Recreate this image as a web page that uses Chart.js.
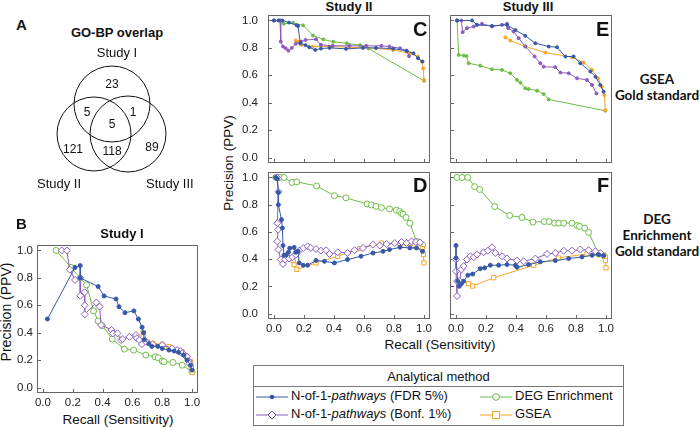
<!DOCTYPE html>
<html>
<head>
<meta charset="utf-8">
<script src="https://cdn.jsdelivr.net/npm/chart.js@4.4.1/dist/chart.umd.min.js"></script>
<style>
  body { margin:0; width:700px; height:427px; overflow:hidden; background:#fff; font-family:"Liberation Sans", Arial, sans-serif; color:#111; }
  canvas { position:absolute; }
  .t { position:absolute; white-space:nowrap; line-height:1; }
  .b { font-weight:bold; }
  .c { transform:translateX(-50%); }
  .rot { transform:translate(-50%,-50%) rotate(-90deg); }
  .gs { font-family:Lato, "Open Sans", sans-serif; font-weight:bold; font-size:13.5px; text-align:center; line-height:16px; }
  .big { font-weight:bold; font-size:20px; }
  #legend { position:absolute; left:253px; top:365px; width:369px; height:59px; border:1px solid #777; font-size:13px; }
  #legend .hd { height:20px; border-bottom:1px solid #777; text-align:center; line-height:21px; }
  #legend .it { position:absolute; height:16px; line-height:16px; }
  #legend svg { vertical-align:middle; margin-right:3px; }
</style>
</head>
<body>

<!-- Venn -->
<canvas id="venn" width="200" height="130" style="left:0;top:55px"></canvas>
<div class="t b" style="left:16px;top:17px;font-size:15px">A</div>
<div class="t b c" style="left:117px;top:26px;font-size:13px">GO-BP overlap</div>
<div class="t c" style="left:117px;top:46px;font-size:13px">Study I</div>
<div class="t" style="left:37px;top:177px;font-size:13px">Study II</div>
<div class="t" style="left:146px;top:177px;font-size:13px">Study III</div>

<!-- B -->
<div class="t b" style="left:16px;top:216px;font-size:15px">B</div>
<div class="t b c" style="left:122px;top:227px;font-size:13px">Study I</div>
<div class="t rot" style="left:6px;top:312px;font-size:14px">Precision (PPV)</div>
<div class="t c" style="left:118px;top:413px;font-size:13.5px">Recall (Sensitivity)</div>
<canvas id="pB"></canvas>

<!-- C-F -->
<div class="t b c" style="left:349px;top:0px;font-size:13px">Study II</div>
<div class="t b c" style="left:528px;top:0px;font-size:13px">Study III</div>
<div class="t rot" style="left:229px;top:163px;font-size:13.5px">Precision (PPV)</div>
<div class="t c" style="left:440px;top:338px;font-size:13.5px">Recall (Sensitivity)</div>
<div class="t gs c" style="left:657px;top:71px">GSEA<br>Gold standard</div>
<div class="t gs c" style="left:657px;top:211px">DEG<br>Enrichment<br>Gold standard</div>
<canvas id="pC"></canvas>
<canvas id="pD"></canvas>
<canvas id="pE"></canvas>
<canvas id="pF"></canvas>
<div class="t big" style="left:413px;top:19px">C</div>
<div class="t big" style="left:413px;top:175px">D</div>
<div class="t big" style="left:596px;top:19px">E</div>
<div class="t big" style="left:597px;top:175px">F</div>

<div id="legend">
  <div class="hd">Analytical method</div>
  <div class="it" style="left:2px;top:22px"><svg width="32" height="10"><line x1="0" y1="5" x2="32" y2="5" stroke="#3558a8"/><circle cx="16" cy="5" r="2.2" fill="#2c4d9e"/></svg>N-of-1-<i>pathways</i> (FDR 5%)</div>
  <div class="it" style="left:2px;top:40px"><svg width="32" height="10"><line x1="0" y1="5" x2="32" y2="5" stroke="#8c5cbf"/><path d="M16 1 L20 5 L16 9 L12 5 Z" fill="#fff" stroke="#8c5cbf"/></svg>N-of-1-<i>pathways</i> (Bonf. 1%)</div>
  <div class="it" style="left:226px;top:22px"><svg width="32" height="10"><line x1="0" y1="5" x2="32" y2="5" stroke="#6dbd45"/><circle cx="16" cy="5" r="3.3" fill="#fff" stroke="#6dbd45"/></svg>DEG Enrichment</div>
  <div class="it" style="left:226px;top:40px"><svg width="32" height="10"><line x1="0" y1="5" x2="32" y2="5" stroke="#f5a52a"/><rect x="12.5" y="1.5" width="7" height="7" fill="#fff" stroke="#f5a52a"/></svg>GSEA</div>
</div>

<script>
// Venn counts (GO-BP overlap)
const vennSets = ['Study I', 'Study II', 'Study III'];
const vennCounts = [23, 5, 1, 5, 121, 118, 89]; // I only, I&II, I&III, all, II only, II&III, III only

// Precision-recall curves: [recall, precision]
// Panel B - Study I
const B_FDR = [[0.03,0.50],[0.215,0.876],[0.25,0.89],[0.25,0.80],[0.37,0.737],[0.41,0.668],[0.49,0.646],[0.51,0.59],[0.55,0.546],[0.61,0.559],[0.64,0.50],[0.665,0.44],[0.675,0.40],[0.68,0.35],[0.71,0.32],[0.73,0.30],[0.77,0.30],[0.80,0.285],[0.845,0.273],[0.88,0.266],[0.91,0.256],[0.945,0.237],[0.967,0.20],[0.99,0.163],[1.0,0.127]];
const B_BONF = [[0.126,1.0],[0.16,1.0],[0.18,0.86],[0.215,0.785],[0.25,0.80],[0.25,0.67],[0.28,0.695],[0.28,0.60],[0.28,0.534],[0.358,0.62],[0.38,0.59],[0.39,0.456],[0.46,0.42],[0.47,0.395],[0.50,0.395],[0.524,0.346],[0.535,0.354],[0.58,0.37],[0.624,0.383],[0.63,0.36],[0.646,0.346],[0.664,0.317],[0.69,0.334],[0.735,0.315],[0.80,0.31],[0.867,0.285],[0.90,0.273],[0.922,0.266],[0.934,0.249],[0.95,0.237],[0.967,0.224],[0.978,0.193],[0.982,0.176]];
const B_DEG = [[0.088,1.0],[0.188,0.876],[0.292,0.749],[0.34,0.559],[0.37,0.485],[0.398,0.451],[0.465,0.354],[0.546,0.28],[0.608,0.273],[0.69,0.237],[0.752,0.224],[0.774,0.217],[0.80,0.193],[0.812,0.188],[0.872,0.183],[0.934,0.163],[1.0,0.115]];
const B_GSEA = [[0.672,0.40],[0.672,0.37],[0.70,0.334],[0.735,0.322],[0.80,0.315],[0.845,0.298],[0.89,0.273],[0.934,0.26],[0.967,0.212],[0.99,0.188],[0.995,0.151],[1.0,0.11]];

// Panel C - Study II, GSEA gold standard
const C_FDR = [[0,1],[0.03,1],[0.056,1],[0.10,0.985],[0.15,0.966],[0.16,0.96],[0.175,0.834],[0.21,0.82],[0.235,0.805],[0.275,0.785],[0.313,0.795],[0.37,0.80],[0.48,0.793],[0.593,0.80],[0.68,0.80],[0.794,0.795],[0.884,0.778],[0.93,0.76],[0.96,0.724],[0.99,0.70]];
const C_BONF = [[0,1],[0.04,1],[0.045,0.846],[0.06,0.81],[0.078,0.797],[0.096,0.78],[0.118,0.80],[0.145,0.83],[0.18,0.846],[0.21,0.858],[0.28,0.863],[0.313,0.822],[0.39,0.815],[0.503,0.815],[0.615,0.815],[0.716,0.815],[0.77,0.81],[0.84,0.797],[0.884,0.78],[0.90,0.74]];
const C_DEG = [[0,1],[0.033,1],[0.065,0.976],[0.127,0.983],[0.194,0.964],[0.26,0.89],[0.328,0.862],[0.395,0.845],[0.485,0.833],[0.574,0.82],[0.63,0.795],[1.0,0.56]];
const C_GSEA = [[0.145,0.854],[0.16,0.845],[0.18,0.822],[0.257,0.81],[0.39,0.81],[0.503,0.805],[0.68,0.797],[0.794,0.785],[0.906,0.76],[0.96,0.737],[0.985,0.70],[0.995,0.65],[1.0,0.566]];

// Panel D - Study II, DEG enrichment gold standard
const D_FDR = [[0.011,1],[0.022,0.99],[0.029,0.89],[0.029,0.80],[0.05,0.69],[0.056,0.628],[0.06,0.50],[0.067,0.428],[0.08,0.43],[0.096,0.45],[0.105,0.48],[0.134,0.486],[0.145,0.45],[0.16,0.457],[0.168,0.372],[0.195,0.355],[0.224,0.355],[0.28,0.39],[0.336,0.384],[0.403,0.372],[0.49,0.397],[0.58,0.421],[0.66,0.445],[0.727,0.457],[0.77,0.47],[0.84,0.487],[0.906,0.482],[0.95,0.482],[0.99,0.457]];
const D_BONF = [[0.02,1],[0.03,0.895],[0.022,0.664],[0.027,0.616],[0.022,0.53],[0.03,0.47],[0.045,0.397],[0.06,0.365],[0.074,0.397],[0.1,0.404],[0.123,0.414],[0.145,0.433],[0.168,0.462],[0.195,0.482],[0.224,0.494],[0.246,0.482],[0.28,0.474],[0.313,0.462],[0.347,0.465],[0.37,0.438],[0.425,0.45],[0.49,0.445],[0.537,0.465],[0.593,0.482],[0.66,0.506],[0.705,0.50],[0.75,0.51],[0.805,0.518],[0.85,0.526],[0.884,0.518],[0.917,0.53],[0.946,0.526],[0.973,0.523]];
const D_DEG = [[0.011,1],[0.04,1],[0.067,1],[0.12,0.963],[0.152,0.968],[0.284,0.937],[0.403,0.866],[0.48,0.85],[0.62,0.805],[0.65,0.798],[0.68,0.788],[0.716,0.778],[0.77,0.769],[0.816,0.76],[0.838,0.75],[0.85,0.735],[0.86,0.73],[0.88,0.706],[0.906,0.664],[0.95,0.53],[0.99,0.506]];
const D_GSEA = [[0.128,0.39],[0.134,0.36],[0.152,0.324],[0.28,0.372],[0.425,0.421],[0.57,0.477],[0.716,0.518],[0.84,0.506],[0.94,0.50],[0.973,0.494],[0.99,0.477],[0.996,0.433],[1.0,0.372]];

// Panel E - Study III, GSEA gold standard
const E_FDR = [[0.007,1],[0.107,1],[0.14,0.968],[0.24,0.961],[0.34,0.968],[0.396,0.93],[0.462,0.888],[0.529,0.834],[0.618,0.81],[0.673,0.805],[0.729,0.737],[0.784,0.737],[0.829,0.688],[0.896,0.627],[0.93,0.59],[0.962,0.529],[0.984,0.48]];
const E_BONF = [[0.007,1],[0.036,1],[0.044,0.915],[0.073,0.944],[0.118,0.956],[0.173,0.976],[0.24,0.956],[0.307,0.968],[0.34,0.976],[0.347,0.944],[0.384,0.92],[0.418,0.871],[0.462,0.81],[0.524,0.737],[0.562,0.688],[0.584,0.663],[0.662,0.659],[0.696,0.62],[0.751,0.615],[0.807,0.578],[0.873,0.566],[0.907,0.529],[0.936,0.468]];
const E_DEG = [[0.007,1],[0.018,0.749],[0.051,0.744],[0.07,0.74],[0.084,0.688],[0.162,0.67],[0.24,0.644],[0.307,0.639],[0.362,0.615],[0.407,0.566],[0.43,0.546],[0.462,0.505],[0.484,0.50],[0.54,0.488],[0.584,0.463],[0.618,0.424],[0.996,0.341]];
const E_GSEA = [[0.329,0.876],[0.362,0.854],[0.462,0.81],[0.596,0.766],[0.773,0.732],[0.851,0.693],[0.907,0.639],[0.947,0.578],[0.973,0.517],[0.989,0.456],[0.996,0.346]];

// Panel F - Study III, DEG enrichment gold standard
const F_FDR = [[0,0.50],[0,0.409],[0.011,0.238],[0.022,0.20],[0.036,0.219],[0.051,0.238],[0.08,0.282],[0.111,0.29],[0.162,0.33],[0.191,0.336],[0.229,0.355],[0.284,0.355],[0.34,0.36],[0.396,0.355],[0.407,0.34],[0.484,0.36],[0.562,0.38],[0.662,0.389],[0.751,0.404],[0.84,0.416],[0.907,0.428],[0.951,0.433],[0.984,0.426]];
const F_BONF = [[0,0.397],[0,0.311],[0.007,0.129],[0.007,0.238],[0.024,0.238],[0.036,0.324],[0.051,0.348],[0.073,0.397],[0.096,0.421],[0.118,0.414],[0.14,0.433],[0.184,0.45],[0.213,0.462],[0.24,0.487],[0.262,0.445],[0.307,0.421],[0.34,0.404],[0.407,0.389],[0.451,0.384],[0.529,0.404],[0.607,0.438],[0.662,0.445],[0.718,0.462],[0.773,0.462],[0.829,0.47],[0.884,0.465],[0.929,0.457],[0.962,0.445]];
const F_DEG = [[0.007,1],[0.04,1],[0.078,1],[0.124,0.932],[0.158,0.912],[0.258,0.786],[0.358,0.72],[0.44,0.706],[0.513,0.672],[0.589,0.676],[0.62,0.676],[0.658,0.664],[0.685,0.664],[0.718,0.664],[0.773,0.664],[0.807,0.647],[0.824,0.64],[0.858,0.628],[0.884,0.596],[0.951,0.438],[0.991,0.418]];
const F_GSEA = [[0.084,0.219],[0.111,0.202],[0.251,0.263],[0.518,0.355],[0.684,0.409],[0.873,0.438],[0.962,0.433],[0.985,0.43],[0.996,0.389],[1.0,0.336]];

const tickVals = [0, 0.2, 0.4, 0.6, 0.8, 1.0];

const COL = { fdr:'#3558a8', bonf:'#8c5cbf', deg:'#6dbd45', gsea:'#f5a52a' };

// frame + inward ticks, Mathematica style
const framePlugin = {
  id: 'frame',
  beforeDatasetsDraw(chart) {
    const { ctx, chartArea: a, scales } = chart;
    ctx.save();
    ctx.strokeStyle = '#666';
    ctx.lineWidth = 1;
    ctx.strokeRect(a.left + 0.5, a.top + 0.5, a.width - 1, a.height - 1);
    ctx.beginPath();
    tickVals.forEach(v => {
      const x = Math.round(scales.x.getPixelForValue(v)) + 0.5;
      ctx.moveTo(x, a.bottom); ctx.lineTo(x, a.bottom - 4);
      const y = Math.round(scales.y.getPixelForValue(v)) + 0.5;
      ctx.moveTo(a.left, y); ctx.lineTo(a.left + 4, y);
    });
    ctx.stroke();
    ctx.restore();
  }
};

function ds(data, key, small) {
  const c = COL[key];
  const style = { fdr:'circle', bonf:'rectRot', deg:'circle', gsea:'rect' }[key];
  const open = !small && key !== 'fdr';
  return {
    data: data.map(p => ({ x: p[0], y: p[1] })),
    showLine: true,
    borderColor: c,
    borderWidth: 1,
    pointStyle: small ? 'circle' : style,
    pointRadius: small ? 1.5 : (key === 'fdr' ? 2 : (key === 'bonf' ? 3.5 : 3)),
    pointBorderWidth: 1,
    pointBorderColor: c,
    pointBackgroundColor: open ? '#fff' : c,
    clip: false
  };
}

function noPad(s) { s.paddingTop = 0; s.paddingBottom = 0; s.paddingLeft = 0; s.paddingRight = 0; }

function panel(id, box, sets, o) {
  const T = 3, R = 3, BOT = 25;
  const L = Math.min(45, box.l);
  const cv = document.getElementById(id);
  cv.width = L + box.w + R;
  cv.height = T + box.h + BOT;
  cv.style.left = (box.l - L) + 'px';
  cv.style.top = (box.t - T) + 'px';
  const small = !!o.small;
  const font = { family: '"Liberation Sans", Arial, sans-serif', size: 11.5 };
  new Chart(cv, {
    type: 'scatter',
    data: { datasets: [ds(sets[0], 'fdr', small), ds(sets[1], 'bonf', small), ds(sets[2], 'gsea', small), ds(sets[3], 'deg', small)] },
    options: {
      responsive: false,
      animation: false,
      layout: { autoPadding: false, padding: { top: T, right: R, left: 0, bottom: 0 } },
      plugins: { legend: { display: false }, tooltip: { enabled: false } },
      scales: {
        x: {
          type: 'linear', min: -0.04, max: 1.04,
          grid: { display: false, drawTicks: false }, border: { display: false },
          afterBuildTicks: s => { s.ticks = tickVals.map(v => ({ value: v })); },
          afterFit: s => { s.height = BOT; noPad(s); },
          ticks: { display: !!o.xl, padding: 3, color: '#222', font, maxRotation: 0, callback: v => v.toFixed(1) }
        },
        y: {
          type: 'linear', min: -0.04, max: 1.04,
          grid: { display: false, drawTicks: false }, border: { display: false },
          afterBuildTicks: s => { s.ticks = tickVals.map(v => ({ value: v })); },
          afterFit: s => { s.width = L; noPad(s); },
          ticks: { display: !!o.yl, padding: o.ypad || 10, color: '#222', font, callback: v => v.toFixed(1) }
        }
      }
    },
    plugins: [framePlugin]
  });
}

panel('pB', { l: 37, t: 245, w: 161, h: 148 }, [B_FDR, B_BONF, B_GSEA, B_DEG], { xl: true, yl: true, ypad: 4 });
panel('pC', { l: 268, t: 15, w: 162, h: 148 }, [C_FDR, C_BONF, C_GSEA, C_DEG], { yl: true, small: true });
panel('pD', { l: 268, t: 172, w: 162, h: 147 }, [D_FDR, D_BONF, D_GSEA, D_DEG], { xl: true, yl: true });
panel('pE', { l: 450, t: 15, w: 162, h: 148 }, [E_FDR, E_BONF, E_GSEA, E_DEG], { small: true });
panel('pF', { l: 450, t: 172, w: 162, h: 147 }, [F_FDR, F_BONF, F_GSEA, F_DEG], { xl: true });

// Venn as a bubble chart in page pixel coordinates
const vennCircles = [{ x: 112, y: 104, r: 38 }, { x: 94, y: 134, r: 37 }, { x: 128, y: 134, r: 38 }];
const vennLabelPos = [[112, 85], [87, 113], [133, 113], [112, 125], [73, 150], [112, 152], [152, 148]];
new Chart(document.getElementById('venn'), {
  type: 'bubble',
  data: { datasets: [{ label: vennSets.join(' / '), data: vennCircles, borderColor: '#111', borderWidth: 1, backgroundColor: 'rgba(0,0,0,0)', hoverRadius: 0, clip: false }] },
  options: {
    responsive: false, animation: false,
    layout: { autoPadding: false, padding: 0 },
    plugins: { legend: { display: false }, tooltip: { enabled: false } },
    scales: {
      x: { type: 'linear', min: 0, max: 200, display: false },
      y: { type: 'linear', min: 55, max: 185, reverse: true, display: false }
    }
  },
  plugins: [{
    id: 'vennText',
    afterDatasetsDraw(chart) {
      const { ctx, scales } = chart;
      ctx.save();
      ctx.fillStyle = '#111';
      ctx.font = '12px "Liberation Sans", Arial, sans-serif';
      ctx.textAlign = 'center';
      ctx.textBaseline = 'middle';
      vennCounts.forEach((n, i) => {
        ctx.fillText(String(n), scales.x.getPixelForValue(vennLabelPos[i][0]), scales.y.getPixelForValue(vennLabelPos[i][1]));
      });
      ctx.restore();
    }
  }]
});
</script>
</body>
</html>
